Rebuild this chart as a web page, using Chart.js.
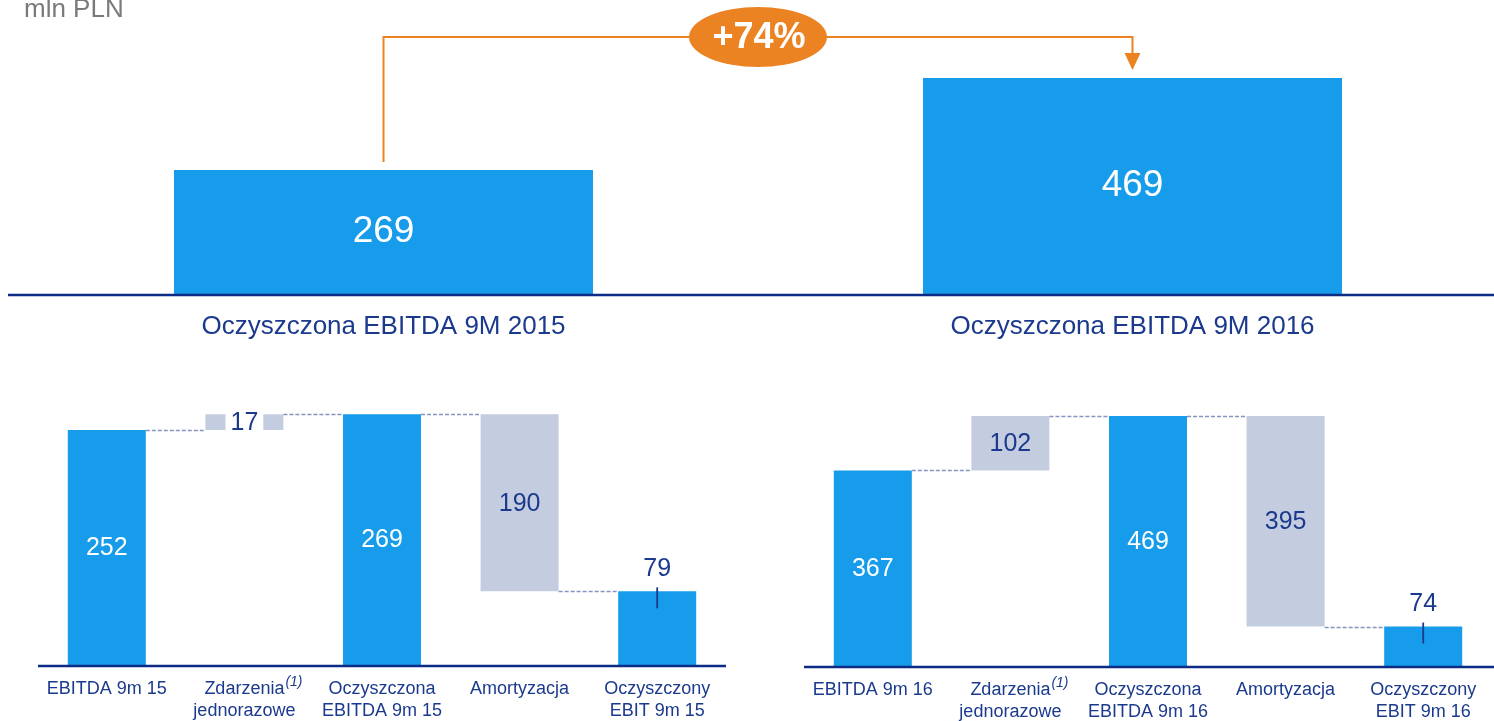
<!DOCTYPE html>
<html>
<head>
<meta charset="utf-8">
<script src="https://cdn.jsdelivr.net/npm/chart.js@4/dist/chart.umd.min.js"></script>
<style>
  html, body { margin: 0; padding: 0; background: #fff; overflow: hidden; }
  body { width: 1494px; height: 721px; position: relative; }
  canvas { position: absolute; }
</style>
</head>
<body>
<canvas id="top" width="1494" height="360" style="left:0;top:0"></canvas>
<canvas id="left" width="750" height="341" style="left:0;top:380px"></canvas>
<canvas id="right" width="734" height="341" style="left:760px;top:380px"></canvas>
<script>
// ---- data ----
const unitLabel = 'mln PLN';
const growthLabel = '+74%';
const topCategories = ['Oczyszczona EBITDA 9M 2015', 'Oczyszczona EBITDA 9M 2016'];
const topValues = [269, 469];

const leftCategories = [['EBITDA 9m 15'], ['Zdarzenia', 'jednorazowe'], ['Oczyszczona', 'EBITDA 9m 15'], ['Amortyzacja'], ['Oczyszczony', 'EBIT 9m 15']];
const leftValues = [252, 17, 269, -190, 79];
const leftIsTotal = [true, false, true, false, true];

const rightCategories = [['EBITDA 9m 16'], ['Zdarzenia', 'jednorazowe'], ['Oczyszczona', 'EBITDA 9m 16'], ['Amortyzacja'], ['Oczyszczony', 'EBIT 9m 16']];
const rightValues = [367, 102, 469, -395, 74];
const rightIsTotal = [true, false, true, false, true];

const footnotes = ['', '(1)', '', '', ''];

// ---- styles ----
const FONT = '"Liberation Sans", Arial, sans-serif';
const BLUE = '#169CEA';
const GREY = '#C4CDE0';
const NAVY = '#1B3A8E';
const AXIS = '#0B2B85';
const ORANGE = '#EC8322';
const DASH = '#8494BC';
Chart.defaults.font.family = FONT;
Chart.defaults.animation = false;

// ---- top chart ----
const topPlugin = {
  id: 'topDecor',
  afterDatasetsDraw(chart) {
    const ctx = chart.ctx;
    const ca = chart.chartArea;
    const bars = chart.getDatasetMeta(0).data;
    ctx.save();
    // baseline
    ctx.strokeStyle = AXIS;
    ctx.lineWidth = 2.5;
    ctx.beginPath();
    ctx.moveTo(ca.left - 1, ca.bottom + 1);
    ctx.lineTo(chart.width, ca.bottom + 1);
    ctx.stroke();
    // values
    ctx.fillStyle = '#fff';
    ctx.font = '37px ' + FONT;
    ctx.textAlign = 'center';
    ctx.textBaseline = 'middle';
    bars.forEach((b, i) => {
      ctx.fillText(String(topValues[i]), b.x, (b.y + b.base) / 2);
    });
    // connector
    const yLine = 37;
    const b0 = bars[0], b1 = bars[1];
    const tip = b1.y - 8;
    ctx.strokeStyle = ORANGE;
    ctx.lineWidth = 2;
    ctx.beginPath();
    ctx.moveTo(b0.x, b0.y - 8);
    ctx.lineTo(b0.x, yLine);
    ctx.lineTo(b1.x, yLine);
    ctx.lineTo(b1.x, tip - 16);
    ctx.stroke();
    ctx.fillStyle = ORANGE;
    ctx.beginPath();
    ctx.moveTo(b1.x - 8, tip - 17);
    ctx.lineTo(b1.x + 8, tip - 17);
    ctx.lineTo(b1.x, tip);
    ctx.closePath();
    ctx.fill();
    // ellipse
    const cx = (b0.x + b1.x) / 2;
    ctx.beginPath();
    ctx.ellipse(cx, yLine, 69, 30, 0, 0, Math.PI * 2);
    ctx.fill();
    ctx.fillStyle = '#fff';
    ctx.font = 'bold 36px ' + FONT;
    ctx.fillText(growthLabel, cx + 1, yLine + 1);
    // unit
    ctx.fillStyle = '#7A7A7A';
    ctx.font = '26px ' + FONT;
    ctx.textAlign = 'left';
    ctx.textBaseline = 'alphabetic';
    ctx.fillText(unitLabel, 24, 17);
    ctx.restore();
  }
};

new Chart(document.getElementById('top'), {
  type: 'bar',
  data: {
    datasets: [{
      data: topValues.map((v, i) => ({ x: i, y: v })),
      backgroundColor: BLUE,
      borderWidth: 0,
      categoryPercentage: 1,
      barPercentage: 0.5594
    }]
  },
  options: {
    responsive: false,
    devicePixelRatio: 1,
    layout: { padding: { left: 9, right: 0, top: 0, bottom: 0 } },
    plugins: { legend: { display: false }, tooltip: { enabled: false } },
    scales: {
      x: {
        type: 'linear',
        offset: false,
        min: -0.5,
        max: 1.48264,
        grid: { display: false, drawTicks: false },
        border: { display: false },
        afterBuildTicks: (s) => { s.ticks = topCategories.map((_, i) => ({ value: i })); },
        afterFit: (s) => { s.height = 66; },
        ticks: {
          callback: (v) => topCategories[v],
          color: NAVY,
          font: { size: 26 },
          padding: 17,
          maxRotation: 0,
          autoSkip: false
        }
      },
      y: { display: false, min: 0, max: 638 }
    }
  },
  plugins: [topPlugin]
});

// ---- waterfall charts ----
function makeWaterfall(id, categories, values, isTotal, cfg) {
  let run = 0;
  const runAfter = [];
  const floating = values.map((v, i) => {
    let r;
    if (isTotal[i]) { run = v; r = [0, v]; }
    else { const s = run; run += v; r = [s, run]; }
    runAfter.push(run);
    return r;
  });

  const plugin = {
    id: 'wf_' + id,
    afterDatasetsDraw(chart) {
      const ctx = chart.ctx;
      const ca = chart.chartArea;
      const yS = chart.scales.y;
      const xS = chart.scales.x;
      const bars = chart.getDatasetMeta(0).data;
      ctx.save();
      // baseline
      ctx.strokeStyle = AXIS;
      ctx.lineWidth = 2.5;
      ctx.beginPath();
      ctx.moveTo(ca.left, ca.bottom + 1);
      ctx.lineTo(ca.right + cfg.axisExtra, ca.bottom + 1);
      ctx.stroke();
      // connectors
      ctx.strokeStyle = DASH;
      ctx.lineWidth = 1.5;
      ctx.setLineDash([4, 2]);
      for (let i = 0; i < bars.length - 1; i++) {
        const y = Math.round(yS.getPixelForValue(runAfter[i])) + 0.5;
        ctx.beginPath();
        ctx.moveTo(bars[i].x + bars[i].width / 2, y);
        ctx.lineTo(bars[i + 1].x - bars[i + 1].width / 2, y);
        ctx.stroke();
      }
      ctx.setLineDash([]);
      // value labels
      ctx.font = '25px ' + FONT;
      ctx.textAlign = 'center';
      ctx.textBaseline = 'middle';
      bars.forEach((b, i) => {
        const top = Math.min(b.y, b.base);
        const bottom = Math.max(b.y, b.base);
        const txt = String(Math.abs(values[i]));
        if (cfg.outside.includes(i)) {
          ctx.fillStyle = NAVY;
          ctx.fillText(txt, b.x, top - 22);
          ctx.strokeStyle = NAVY;
          ctx.lineWidth = 1.8;
          ctx.beginPath();
          ctx.moveTo(b.x, top - 4);
          ctx.lineTo(b.x, top + 17);
          ctx.stroke();
          return;
        }
        const cy = (top + bottom) / 2;
        if (bottom - top < 25) {
          const w = ctx.measureText(txt).width + 10;
          ctx.fillStyle = '#fff';
          ctx.fillRect(b.x - w / 2, top - 1, w, bottom - top + 2);
        }
        ctx.fillStyle = isTotal[i] ? '#fff' : NAVY;
        ctx.fillText(txt, b.x, cy + 1);
      });
      // footnote superscripts
      ctx.font = '18px ' + FONT;
      footnotes.forEach((f, i) => {
        if (!f) return;
        const w = ctx.measureText(categories[i][0]).width;
        const x = xS.getPixelForValue(i) + w / 2 + 1;
        const lineCenter = ca.bottom + 13 + 11;
        ctx.save();
        ctx.font = 'italic 14px ' + FONT;
        ctx.fillStyle = NAVY;
        ctx.textAlign = 'left';
        ctx.fillText(f, x, lineCenter - 7);
        ctx.restore();
      });
      ctx.restore();
    }
  };

  return new Chart(document.getElementById(id), {
    type: 'bar',
    data: {
      labels: categories,
      datasets: [{
        data: floating,
        backgroundColor: isTotal.map(t => t ? BLUE : GREY),
        borderWidth: 0,
        borderSkipped: false,
        categoryPercentage: 1,
        barPercentage: 0.567
      }]
    },
    options: {
      responsive: false,
      devicePixelRatio: 1,
      layout: { padding: cfg.padding },
      plugins: { legend: { display: false }, tooltip: { enabled: false } },
      scales: {
        x: {
          grid: { display: false, drawTicks: false },
          border: { display: false },
          afterFit: (s) => { s.height = cfg.axisHeight; },
          ticks: {
            color: NAVY,
            font: { size: 18, lineHeight: 22 / 18 },
            padding: 13,
            maxRotation: 0,
            autoSkip: false
          }
        },
        y: { display: false, min: 0, max: cfg.yMax }
      }
    },
    plugins: [plugin]
  });
}

makeWaterfall('left', leftCategories, leftValues, leftIsTotal, {
  padding: { left: 38, right: 24, top: 0, bottom: 0 },
  axisHeight: 56, yMax: 305.6, outside: [4], axisExtra: 0
});
makeWaterfall('right', rightCategories, rightValues, rightIsTotal, {
  padding: { left: 44, right: 2, top: 0, bottom: 0 },
  axisHeight: 55, yMax: 536.6, outside: [4], axisExtra: 2
});
</script>
</body>
</html>
